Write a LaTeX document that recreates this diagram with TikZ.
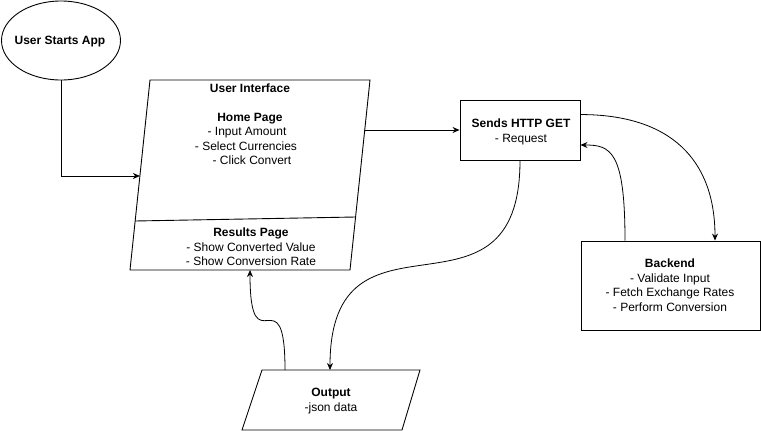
\documentclass[tikz,border=0pt]{standalone}
\usepackage{fontspec}
\setmainfont{Liberation Sans}
\usetikzlibrary{shapes.geometric,arrows.meta}
\begin{document}
\begin{tikzpicture}[x=1pt,y=-1pt,line width=0.9pt,
  box/.style={draw=black,line width=0.9pt,inner sep=0pt,rectangle},
  txt/.style={font=\fontsize{12}{14}\selectfont,anchor=base,inner sep=0pt},
  bold/.style={font=\fontsize{12}{14}\selectfont\bfseries,anchor=base,inner sep=0pt},
  arr/.style={-{Stealth[length=7pt,width=6pt]},line width=0.8pt}]
\useasboundingbox (0,0) rectangle (761,431);

% shapes
\node[ellipse,draw=black,line width=0.9pt,minimum width=119pt,minimum height=79pt,inner sep=0pt] (start) at (61,40.5) {};
\node[box,minimum width=120pt,minimum height=60pt] (http) at (520,130) {};
\node[box,minimum width=179pt,minimum height=89pt] (backend) at (670.5,285.5) {};

\coordinate (uiTL) at (150,80);
\coordinate (uiTR) at (370,80);
\coordinate (uiBR) at (350,270);
\coordinate (uiBL) at (130,270);
\draw (uiTL) -- (uiTR) -- (uiBR) -- (uiBL) -- cycle;
\coordinate (sepL) at (135.2,221);
\coordinate (sepR) at (355.6,217);
\draw (sepL) -- (sepR);

\coordinate (outTL) at (262,370);
\coordinate (outTR) at (420,370);
\coordinate (outBR) at (402,430);
\coordinate (outBL) at (242,430);
\draw (outTL) -- (outTR) -- (outBR) -- (outBL) -- cycle;

% texts
\node[bold] (tstart) at (60,44.3) {User Starts App};

\node[bold] (ui1) at (250,92.3) {User Interface};
\node[bold] (ui2) at (250,121.3) {Home Page};
\node[txt] (ui3) at (247,135.8) {- Input Amount};
\node[txt] (ui4) at (246,150.3) {- Select Currencies};
\node[txt] (ui5) at (252,164.8) {- Click Convert};
\node[bold] (ui6) at (251,236.8) {Results Page};
\node[txt] (ui7) at (251,251.3) {- Show Converted Value};
\node[txt] (ui8) at (251,265.8) {- Show Conversion Rate};

\node[bold] (h1) at (521,127.3) {Sends HTTP GET};
\node[txt] (h2) at (521,142.3) {- Request};

\node[bold] (b1) at (670,267.8) {Backend};
\node[txt] (b2) at (670,282.3) {- Validate Input};
\node[txt] (b3) at (670,296.8) {- Fetch Exchange Rates};
\node[txt] (b4) at (670,311.3) {- Perform Conversion};

\node[bold] (o1) at (331,396.3) {Output};
\node[txt] (o2) at (331,411.3) {-json data};

% connector points
\coordinate (uiL) at (139.9,176);
\coordinate (uiR) at (364.7,130);
\coordinate (uiB) at (250,270);
\coordinate (outA) at (285,370);
\coordinate (outB) at (330,370);

% connectors
\draw[arr] (start.south) |- (uiL);
\draw[arr] (uiR) -- (http.west);
\draw[arr] ([yshift=-15pt]http.north east) .. controls +(90,0) and +(0,-81) .. ([xshift=44.5pt]backend.north);
\draw[arr] ([xshift=-45.5pt]backend.north) .. controls +(0,-90) and +(30,0) .. ([yshift=-15pt]http.east);
\draw[arr] (http.south) .. controls +(0,180) and +(0,-180) .. (outB);
\draw[arr] (outA) .. controls +(0,-100) and +(0,100) .. (uiB);
\end{tikzpicture}
\end{document}
